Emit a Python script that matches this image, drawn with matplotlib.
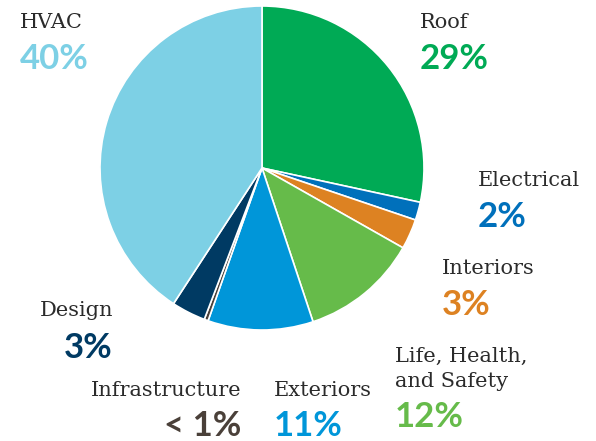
import matplotlib.pyplot as plt

# slice order: clockwise from 12 o'clock
categories = ["Roof", "Electrical", "Interiors", "Life, Health,\nand Safety",
              "Exteriors", "Infrastructure", "Design", "HVAC"]
shares = [28.4, 1.8, 3.0, 11.7, 10.5, 0.4, 3.4, 40.8]
pct_labels = ["29%", "2%", "3%", "12%", "11%", "< 1%", "3%", "40%"]
colors = ["#00aa55", "#0070bb", "#dd8222", "#66bb4a",
          "#0096d9", "#4a4039", "#003a63", "#7dd0e5"]

W, H = 596, 441
fig = plt.figure(figsize=(W / 100, H / 100), dpi=100)
ax = fig.add_axes([0, 0, 1, 1])

ax.pie(shares, colors=colors, startangle=90, counterclock=False,
       center=(262, H - 168), radius=162,
       wedgeprops=dict(edgecolor="white", linewidth=1.2))
ax.set_xlim(0, W)
ax.set_ylim(0, H)
ax.set_aspect("equal")
ax.axis("off")

# label anchor (x, y of name line, y of pct line, alignment) in pixels
pos = {
    "Roof": (420, 22, 59, "left"),
    "Electrical": (478, 180, 217, "left"),
    "Interiors": (442, 268, 305, "left"),
    "Life, Health,\nand Safety": (395, 369, 417, "left"),
    "Exteriors": (274, 390, 426, "left"),
    "Infrastructure": (241, 390, 426, "right"),
    "Design": (113, 311, 348, "right"),
    "HVAC": (20, 22, 59, "left"),
}

name_font = dict(family="DejaVu Serif", size=15, color="#2b2b2b")
pct_font = dict(family="Lato", size=25, weight="bold")

for cat, pct, col in zip(categories, pct_labels, colors):
    x, yn, yp, ha = pos[cat]
    ax.text(x, H - yn, cat, ha=ha, va="center", linespacing=1.45, **name_font)
    ax.text(x, H - yp, pct, ha=ha, va="center", color=col, **pct_font)

fig.savefig("out.png", dpi=100)
